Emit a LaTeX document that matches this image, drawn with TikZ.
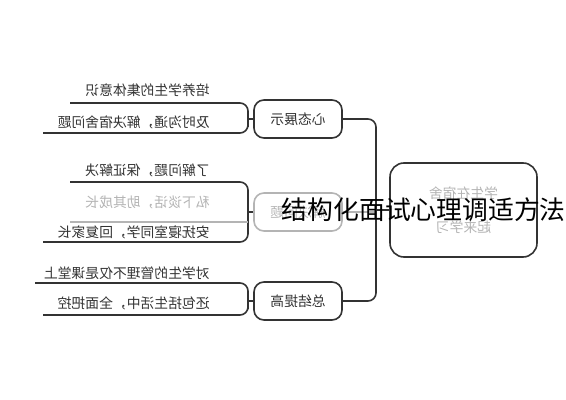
\documentclass[tikz,border=0pt]{standalone}
\usepackage{fontspec}
\newfontfamily\cjk{Noto Sans CJK SC}
\definecolor{ink}{HTML}{333333}
\definecolor{faint}{HTML}{B4B4B4}
\tikzset{
    every node/.style={inner sep=0pt, text=ink, font=\cjk\fontsize{6.9}{8}\selectfont}
}
\tikzset{
    box/.style={draw=ink, line width=0.8pt, rounded corners=5pt, minimum width=44pt, minimum height=19pt},
    leaf/.style={anchor=east},
    link/.style={draw=ink, line width=0.8pt, rounded corners=4pt}
}
\newcommand{\flip}[1]{\reflectbox{#1}}

\begin{document}
\begin{tikzpicture}[x=0.5pt, y=-0.5pt]
    \useasboundingbox (0,0) rectangle (566,400);

    \node (r) [box, minimum width=73.5pt, minimum height=47pt, rounded corners=7pt, align=center, text=faint] at (463.5,210) {\flip{学生在宿舍}\\[9pt]\flip{起来学习}};

    \node (m1) [box] at (298,119) {\flip{心态展示}};
    \node (m2) [box, draw=faint, text=faint] at (298,212) {\flip{解决问题}};
    \node (m3) [box] at (298,301) {\flip{总结提高}};

    \node (l1) [leaf] at (210,90) {\flip{培养学生的集体意识}};
    \node (l2) [leaf] at (210,122) {\flip{及时沟通，解决宿舍问题}};
    \node (l3) [leaf] at (210,170) {\flip{了解问题，保证解决}};
    \node (l4) [leaf, text=faint] at (210,202) {\flip{私下谈话，助其成长}};
    \node (l5) [leaf] at (210,232) {\flip{安抚寝室同学，回复家长}};
    \node (l6) [leaf] at (210,273) {\flip{对学生的管理不仅是课堂上}};
    \node (l7) [leaf] at (210,303) {\flip{还包括生活中，全面把控}};

    \coordinate (t) at (376,210);
    \coordinate (j1) at (248,119);
    \coordinate (j2) at (248,212);
    \coordinate (j3) at (248,301);
    \coordinate (a1) at (70,103);
    \coordinate (a2) at (43,133);
    \coordinate (c1) at (70,182);
    \coordinate (c2) at (70,222);
    \coordinate (c3) at (43,242);
    \coordinate (e1) at (35,283);
    \coordinate (e2) at (43,315);

    % trunk
    \draw[link] (m1) -| (t) |- (m3);
    \draw[link] (r) -- (t);
    \draw[link, draw=faint] (m2) -- (m2 -| t);

    % leaf brackets
    \draw[link] (a1) -| (j1) |- (a2);
    \draw[link] (j1) -- (m1);
    \draw[link] (c1) -| (j2) |- (c3);
    \draw[link, draw=faint] (c2) -- (c2 -| j2);
    \draw[link] (j2) -- (m2);
    \draw[link] (e1) -| (j3) |- (e2);
    \draw[link] (j3) -- (m3);

    \node (title) [anchor=east, text=black, font=\cjk\fontsize{12.9}{14}\selectfont] at (566,210) {结构化面试心理调适方法};
\end{tikzpicture}
\end{document}
